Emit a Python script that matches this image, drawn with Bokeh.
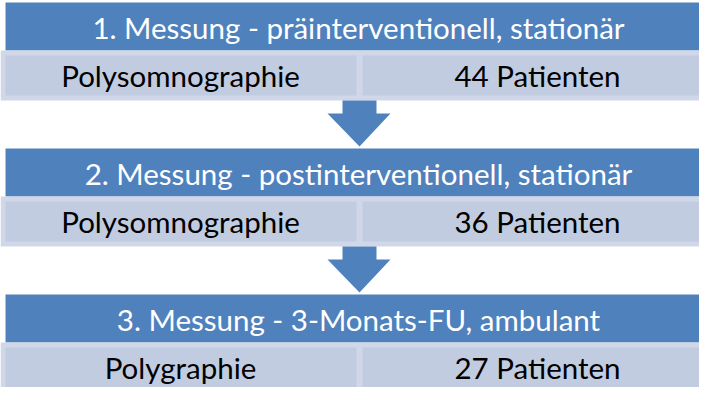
from bokeh.plotting import figure
from bokeh.models import Range1d, ColumnDataSource
from bokeh.core.properties import value
from bokeh.embed import file_html
from bokeh.resources import INLINE

# ---- data ----
headers = [
    "1. Messung - präinterventionell, stationär",
    "2. Messung - postinterventionell, stationär",
    "3. Messung - 3-Monats-FU, ambulant",
]
methods = ["Polysomnographie", "Polysomnographie", "Polygraphie"]
patients = [44, 36, 27]
patient_labels = [f"{n} Patienten" for n in patients]

# ---- style / layout ----
BLUE = "#4F81BD"
LIGHT_IN = "#C1CCE1"
LIGHT_BORDER = "#CFD7E8"
FONT = "Lato"
FS = "29.5px"

W, H = 699, 387
OFF = 8  # page margin: use page pixel coordinates as data coordinates

p = figure(width=W, height=H, output_backend="svg", toolbar_location=None,
           x_range=Range1d(OFF, OFF + W), y_range=Range1d(OFF + H, OFF),
           min_border=0, outline_line_color=None)
p.axis.visible = False
p.grid.visible = False
p.background_fill_color = "white"
p.border_fill_color = "white"

STEP = 146
TOP0 = 10
HH = 48   # header height
RH = 50   # row height
n = len(headers)
tops = [TOP0 + STEP * i for i in range(n)]

# headers
hs = ColumnDataSource(dict(
    left=[13] * n, right=[730] * n,
    top=tops, bottom=[t + HH for t in tops],
    tx=[366] * n, ty=[t + HH / 2 + 0.5 for t in tops], text=headers))
p.quad(left="left", right="right", top="top", bottom="bottom", source=hs,
       fill_color=BLUE, line_color=None)
p.text(x="tx", y="ty", text="text", source=hs, text_color="white",
       text_font=value(FONT), text_font_size=FS, text_align="center",
       text_baseline="middle")

# rows: outer light border, inner cells
rtop = [t + HH for t in tops]
rbot = [t + HH + RH for t in tops]
p.quad(left=[8] * n, right=[740] * n, top=rtop, bottom=rbot,
       fill_color=LIGHT_BORDER, line_color=None)
p.quad(left=[13] * n, right=[364] * n, top=[t + 5 for t in rtop],
       bottom=[b - 5 for b in rbot], fill_color=LIGHT_IN, line_color=None)
p.quad(left=[370] * n, right=[740] * n, top=[t + 5 for t in rtop],
       bottom=[b - 5 for b in rbot], fill_color=LIGHT_IN, line_color=None)

rs = ColumnDataSource(dict(
    lx=[188] * n, rx=[545] * n, y=[(a + b) / 2 for a, b in zip(rtop, rbot)],
    m=methods, pl=patient_labels))
p.text(x="lx", y="y", text="m", source=rs, text_color="black",
       text_font=value(FONT), text_font_size=FS, text_align="center",
       text_baseline="middle")
p.text(x="rx", y="y", text="pl", source=rs, text_color="black",
       text_font=value(FONT), text_font_size=FS, text_align="center",
       text_baseline="middle")

# arrows between steps
xs, ys = [], []
for i in range(n - 1):
    s0 = rbot[i]
    s1 = s0 + 13
    h0 = tops[i + 1] - 2
    xs.append([350, 384, 384, 398, 367, 335, 350])
    ys.append([s0, s0, s1, s1, h0, s1, s1])
p.patches(xs=xs, ys=ys, fill_color=BLUE, line_color=None)

open("out.html", "w").write(file_html(p, INLINE))
